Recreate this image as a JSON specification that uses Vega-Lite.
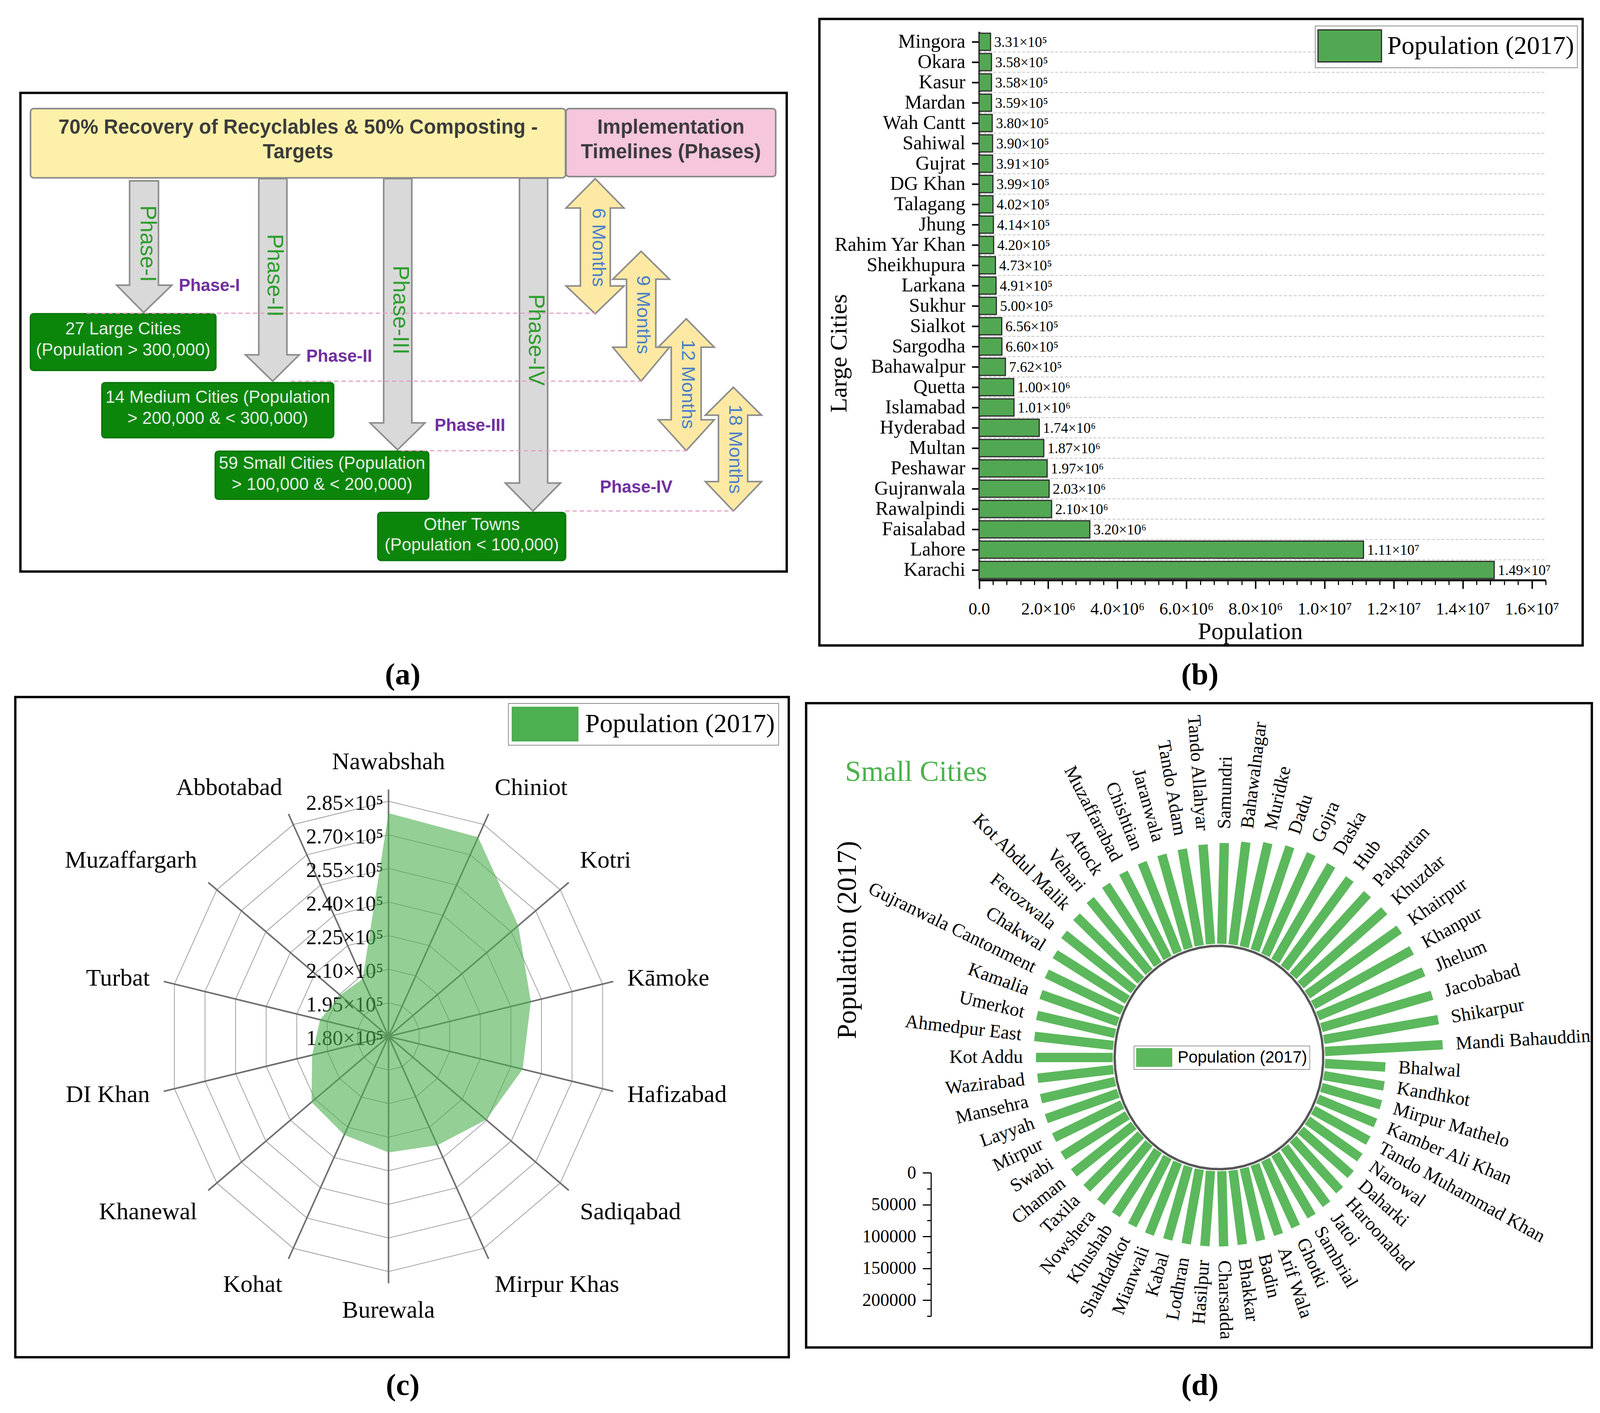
{
"$schema": "https://vega.github.io/schema/vega-lite/v6.json",
"width": 4096, "height": 3617, "padding": 0, "autosize": {"type": "none"}, "background": "white",
"config": {
  "view": {"stroke": null},
  "font": "Liberation Serif",
  "text": {"font": "Liberation Serif", "color": "black"},
  "axis": {"labelFont": "Liberation Serif", "titleFont": "Liberation Serif", "labelColor": "black", "titleColor": "black", "domainColor": "black", "tickColor": "black", "grid": false, "titleFontWeight": "normal", "labelLimit": 2000},
  "legend": {"labelColor": "black", "labelLimit": 2000}
},
"datasets": {
  "frames": [
    {"x": 20, "y": 85, "x2": 771, "y2": 523},
    {"x": 803, "y": 17.3, "x2": 1551, "y2": 590.6},
    {"x": 15, "y": 637.8, "x2": 773, "y2": 1242},
    {"x": 790, "y": 643.5, "x2": 1560, "y2": 1233}
  ],
  "captions": [
    {"t": "(a)", "x": 394.7, "y": 626.4},
    {"t": "(b)", "x": 1175.9, "y": 626.4},
    {"t": "(c)", "x": 394.7, "y": 1276.4},
    {"t": "(d)", "x": 1175.9, "y": 1276.4}
  ],
  "boxes": [
    {"kind": "target", "x": 29.9, "y": 99.4, "x2": 554.2, "y2": 162.7},
    {"kind": "timeline", "x": 554.7, "y": 99.4, "x2": 760.2, "y2": 161.6},
    {"kind": "group", "x": 29.9, "y": 287.1, "x2": 211.5, "y2": 338.9},
    {"kind": "group", "x": 99.9, "y": 350.2, "x2": 326.9, "y2": 400.5},
    {"kind": "group", "x": 211, "y": 413, "x2": 420.1, "y2": 456.8},
    {"kind": "group", "x": 370.3, "y": 469, "x2": 554.2, "y2": 512.8}
  ],
  "shapes": [
    {"s": "p1", "k": "down", "i": 0, "x": 127, "y": 165.5},
    {"s": "p1", "k": "down", "i": 1, "x": 155.3, "y": 165.5},
    {"s": "p1", "k": "down", "i": 2, "x": 155.3, "y": 261},
    {"s": "p1", "k": "down", "i": 3, "x": 168.4, "y": 261},
    {"s": "p1", "k": "down", "i": 4, "x": 140.8, "y": 286},
    {"s": "p1", "k": "down", "i": 5, "x": 114.4, "y": 261},
    {"s": "p1", "k": "down", "i": 6, "x": 127, "y": 261},
    {"s": "p2", "k": "down", "i": 0, "x": 253.6, "y": 163.5},
    {"s": "p2", "k": "down", "i": 1, "x": 281.2, "y": 163.5},
    {"s": "p2", "k": "down", "i": 2, "x": 281.2, "y": 324.7},
    {"s": "p2", "k": "down", "i": 3, "x": 293.3, "y": 324.7},
    {"s": "p2", "k": "down", "i": 4, "x": 267.2, "y": 348.8},
    {"s": "p2", "k": "down", "i": 5, "x": 240.6, "y": 324.7},
    {"s": "p2", "k": "down", "i": 6, "x": 253.6, "y": 324.7},
    {"s": "p3", "k": "down", "i": 0, "x": 376, "y": 163.5},
    {"s": "p3", "k": "down", "i": 1, "x": 403.6, "y": 163.5},
    {"s": "p3", "k": "down", "i": 2, "x": 403.6, "y": 387},
    {"s": "p3", "k": "down", "i": 3, "x": 416.5, "y": 387},
    {"s": "p3", "k": "down", "i": 4, "x": 389.6, "y": 411.6},
    {"s": "p3", "k": "down", "i": 5, "x": 362.6, "y": 387},
    {"s": "p3", "k": "down", "i": 6, "x": 376, "y": 387},
    {"s": "p4", "k": "down", "i": 0, "x": 509.1, "y": 163},
    {"s": "p4", "k": "down", "i": 1, "x": 536.7, "y": 163},
    {"s": "p4", "k": "down", "i": 2, "x": 536.7, "y": 442},
    {"s": "p4", "k": "down", "i": 3, "x": 549.3, "y": 442},
    {"s": "p4", "k": "down", "i": 4, "x": 522.3, "y": 467.6},
    {"s": "p4", "k": "down", "i": 5, "x": 495.2, "y": 442},
    {"s": "p4", "k": "down", "i": 6, "x": 509.1, "y": 442},
    {"s": "m1", "k": "double", "i": 0, "x": 583.3, "y": 163.5},
    {"s": "m1", "k": "double", "i": 1, "x": 611.5, "y": 190.4},
    {"s": "m1", "k": "double", "i": 2, "x": 598.1, "y": 190.4},
    {"s": "m1", "k": "double", "i": 3, "x": 598.1, "y": 261.7},
    {"s": "m1", "k": "double", "i": 4, "x": 611.5, "y": 261.7},
    {"s": "m1", "k": "double", "i": 5, "x": 583.3, "y": 287.1},
    {"s": "m1", "k": "double", "i": 6, "x": 554.7, "y": 261.7},
    {"s": "m1", "k": "double", "i": 7, "x": 568.8, "y": 261.7},
    {"s": "m1", "k": "double", "i": 8, "x": 568.8, "y": 190.4},
    {"s": "m1", "k": "double", "i": 9, "x": 554.7, "y": 190.4},
    {"s": "m2", "k": "double", "i": 0, "x": 628.3, "y": 230},
    {"s": "m2", "k": "double", "i": 1, "x": 656.1, "y": 255.5},
    {"s": "m2", "k": "double", "i": 2, "x": 642.7, "y": 255.5},
    {"s": "m2", "k": "double", "i": 3, "x": 642.7, "y": 317.7},
    {"s": "m2", "k": "double", "i": 4, "x": 656.1, "y": 317.7},
    {"s": "m2", "k": "double", "i": 5, "x": 628.3, "y": 348.8},
    {"s": "m2", "k": "double", "i": 6, "x": 600.5, "y": 317.7},
    {"s": "m2", "k": "double", "i": 7, "x": 614, "y": 317.7},
    {"s": "m2", "k": "double", "i": 8, "x": 614, "y": 255.5},
    {"s": "m2", "k": "double", "i": 9, "x": 600.5, "y": 255.5},
    {"s": "m3", "k": "double", "i": 0, "x": 672.5, "y": 291.7},
    {"s": "m3", "k": "double", "i": 1, "x": 700, "y": 317.7},
    {"s": "m3", "k": "double", "i": 2, "x": 687.1, "y": 317.7},
    {"s": "m3", "k": "double", "i": 3, "x": 687.1, "y": 384.1},
    {"s": "m3", "k": "double", "i": 4, "x": 700, "y": 384.1},
    {"s": "m3", "k": "double", "i": 5, "x": 672.5, "y": 412.4},
    {"s": "m3", "k": "double", "i": 6, "x": 645.1, "y": 384.1},
    {"s": "m3", "k": "double", "i": 7, "x": 657.8, "y": 384.1},
    {"s": "m3", "k": "double", "i": 8, "x": 657.8, "y": 317.7},
    {"s": "m3", "k": "double", "i": 9, "x": 645.1, "y": 317.7},
    {"s": "m4", "k": "double", "i": 0, "x": 718.7, "y": 354.4},
    {"s": "m4", "k": "double", "i": 1, "x": 746.3, "y": 379.9},
    {"s": "m4", "k": "double", "i": 2, "x": 732.7, "y": 379.9},
    {"s": "m4", "k": "double", "i": 3, "x": 732.7, "y": 440.7},
    {"s": "m4", "k": "double", "i": 4, "x": 746.3, "y": 440.7},
    {"s": "m4", "k": "double", "i": 5, "x": 718.7, "y": 467.6},
    {"s": "m4", "k": "double", "i": 6, "x": 691.2, "y": 440.7},
    {"s": "m4", "k": "double", "i": 7, "x": 704.1, "y": 440.7},
    {"s": "m4", "k": "double", "i": 8, "x": 704.1, "y": 379.9},
    {"s": "m4", "k": "double", "i": 9, "x": 691.2, "y": 379.9}
  ],
  "links": [
    {"x": 85, "x2": 583.5, "y": 286.6},
    {"x": 285, "x2": 631, "y": 348.8},
    {"x": 393, "x2": 674, "y": 412.4},
    {"x": 554, "x2": 720, "y": 467.6}
  ],
  "textA": [
    {"kind": "head", "t": "70% Recovery of Recyclables & 50% Composting -", "x": 292.1, "y": 116.9},
    {"kind": "head", "t": "Targets", "x": 292.1, "y": 139.5},
    {"kind": "head", "t": "Implementation", "x": 657.5, "y": 116.9},
    {"kind": "head", "t": "Timelines (Phases)", "x": 657.5, "y": 139.5},
    {"kind": "grp", "t": "27 Large Cities", "x": 120.7, "y": 301.3},
    {"kind": "grp", "t": "(Population > 300,000)", "x": 120.7, "y": 320.5},
    {"kind": "grp", "t": "14 Medium Cities (Population", "x": 213.4, "y": 363.8},
    {"kind": "grp", "t": "> 200,000 & < 300,000)", "x": 213.4, "y": 383.3},
    {"kind": "grp", "t": "59 Small Cities (Population", "x": 315.6, "y": 424.3},
    {"kind": "grp", "t": "> 100,000 & < 200,000)", "x": 315.6, "y": 443.5},
    {"kind": "grp", "t": "Other Towns", "x": 462.3, "y": 480.3},
    {"kind": "grp", "t": "(Population < 100,000)", "x": 462.3, "y": 499.2},
    {"kind": "phase", "t": "Phase-I", "x": 144.5, "y": 223},
    {"kind": "phase", "t": "Phase-II", "x": 268.7, "y": 252},
    {"kind": "phase", "t": "Phase-III", "x": 392, "y": 283.7},
    {"kind": "phase", "t": "Phase-IV", "x": 525, "y": 311},
    {"kind": "plabel", "t": "Phase-I", "x": 205.2, "y": 261.7},
    {"kind": "plabel", "t": "Phase-II", "x": 332.4, "y": 326.2},
    {"kind": "plabel", "t": "Phase-III", "x": 460.5, "y": 389.8},
    {"kind": "plabel", "t": "Phase-IV", "x": 623.5, "y": 446.3},
    {"kind": "month", "t": "6 Months", "x": 586.5, "y": 226.5},
    {"kind": "month", "t": "9 Months", "x": 630, "y": 288},
    {"kind": "month", "t": "12 Months", "x": 674, "y": 351.6},
    {"kind": "month", "t": "18 Months", "x": 720.5, "y": 411}
  ],
  "large": [
    {"city": "Mingora", "pop": 331091},
    {"city": "Okara", "pop": 357935},
    {"city": "Kasur", "pop": 358409},
    {"city": "Mardan", "pop": 358604},
    {"city": "Wah Cantt", "pop": 380103},
    {"city": "Sahiwal", "pop": 389605},
    {"city": "Gujrat", "pop": 390533},
    {"city": "DG Khan", "pop": 399064},
    {"city": "Talagang", "pop": 402000},
    {"city": "Jhung", "pop": 414131},
    {"city": "Rahim Yar Khan", "pop": 420419},
    {"city": "Sheikhupura", "pop": 473129},
    {"city": "Larkana", "pop": 490508},
    {"city": "Sukhur", "pop": 499900},
    {"city": "Sialkot", "pop": 655852},
    {"city": "Sargodha", "pop": 659862},
    {"city": "Bahawalpur", "pop": 762111},
    {"city": "Quetta", "pop": 1001205},
    {"city": "Islamabad", "pop": 1009832},
    {"city": "Hyderabad", "pop": 1740000},
    {"city": "Multan", "pop": 1871843},
    {"city": "Peshawar", "pop": 1970042},
    {"city": "Gujranwala", "pop": 2027001},
    {"city": "Rawalpindi", "pop": 2098231},
    {"city": "Faisalabad", "pop": 3204726},
    {"city": "Lahore", "pop": 11126285},
    {"city": "Karachi", "pop": 14910352}
  ],
  "medium": [
    {"i": 0, "city": "Nawabshah", "pop": 279688},
    {"i": 1, "city": "Chiniot", "pop": 278747},
    {"i": 2, "city": "Kotri", "pop": 259358},
    {"i": 3, "city": "Kāmoke", "pop": 249767},
    {"i": 4, "city": "Hafizabad", "pop": 245784},
    {"i": 5, "city": "Sadiqabad", "pop": 239677},
    {"i": 6, "city": "Mirpur Khas", "pop": 233916},
    {"i": 7, "city": "Burewala", "pop": 231797},
    {"i": 8, "city": "Kohat", "pop": 228779},
    {"i": 9, "city": "Khanewal", "pop": 227059},
    {"i": 10, "city": "DI Khan", "pop": 217457},
    {"i": 11, "city": "Turbat", "pop": 213557},
    {"i": 12, "city": "Muzaffargarh", "pop": 209604},
    {"i": 13, "city": "Abbotabad", "pop": 208491}
  ],
  "ticksC": [
    {"tick": 180000, "k": [0,1,2,3,4,5,6,7,8,9,10,11,12,13,14]},
    {"tick": 195000, "k": [0,1,2,3,4,5,6,7,8,9,10,11,12,13,14]},
    {"tick": 210000, "k": [0,1,2,3,4,5,6,7,8,9,10,11,12,13,14]},
    {"tick": 225000, "k": [0,1,2,3,4,5,6,7,8,9,10,11,12,13,14]},
    {"tick": 240000, "k": [0,1,2,3,4,5,6,7,8,9,10,11,12,13,14]},
    {"tick": 255000, "k": [0,1,2,3,4,5,6,7,8,9,10,11,12,13,14]},
    {"tick": 270000, "k": [0,1,2,3,4,5,6,7,8,9,10,11,12,13,14]},
    {"tick": 285000, "k": [0,1,2,3,4,5,6,7,8,9,10,11,12,13,14]}
  ],
  "small": [
    {"rank": 1, "city": "Bhalwal", "pop": 101400},
    {"rank": 2, "city": "Kandhkot", "pop": 102400},
    {"rank": 3, "city": "Mirpur Mathelo", "pop": 103600},
    {"rank": 4, "city": "Kamber Ali Khan", "pop": 103900},
    {"rank": 5, "city": "Tando Muhammad Khan", "pop": 104300},
    {"rank": 6, "city": "Narowal", "pop": 105700},
    {"rank": 7, "city": "Daharki", "pop": 109100},
    {"rank": 8, "city": "Haroonabad", "pop": 112200},
    {"rank": 9, "city": "Jatoi", "pop": 114200},
    {"rank": 10, "city": "Sambrial", "pop": 115100},
    {"rank": 11, "city": "Ghotki", "pop": 116500},
    {"rank": 12, "city": "Arif Wala", "pop": 116800},
    {"rank": 13, "city": "Badin", "pop": 117000},
    {"rank": 14, "city": "Bhakkar", "pop": 117400},
    {"rank": 15, "city": "Charsadda", "pop": 117900},
    {"rank": 16, "city": "Hasilpur", "pop": 118300},
    {"rank": 17, "city": "Lodhran", "pop": 118800},
    {"rank": 18, "city": "Kabal", "pop": 119700},
    {"rank": 19, "city": "Mianwali", "pop": 122300},
    {"rank": 20, "city": "Shahdadkot", "pop": 122500},
    {"rank": 21, "city": "Khushab", "pop": 122800},
    {"rank": 22, "city": "Nowshera", "pop": 123200},
    {"rank": 23, "city": "Taxila", "pop": 124000},
    {"rank": 24, "city": "Chaman", "pop": 125200},
    {"rank": 25, "city": "Swabi", "pop": 125500},
    {"rank": 26, "city": "Mirpur", "pop": 125800},
    {"rank": 27, "city": "Layyah", "pop": 127100},
    {"rank": 28, "city": "Mansehra", "pop": 127400},
    {"rank": 29, "city": "Wazirabad", "pop": 127800},
    {"rank": 30, "city": "Kot Addu", "pop": 129000},
    {"rank": 31, "city": "Ahmedpur East", "pop": 133000},
    {"rank": 32, "city": "Umerkot", "pop": 134200},
    {"rank": 33, "city": "Kamalia", "pop": 136500},
    {"rank": 34, "city": "Gujranwala Cantonment", "pop": 139200},
    {"rank": 35, "city": "Chakwal", "pop": 141000},
    {"rank": 36, "city": "Ferozwala", "pop": 145600},
    {"rank": 37, "city": "Kot Abdul Malik", "pop": 147300},
    {"rank": 38, "city": "Vehari", "pop": 149900},
    {"rank": 39, "city": "Attock", "pop": 151700},
    {"rank": 40, "city": "Muzaffarabad", "pop": 152900},
    {"rank": 41, "city": "Chishtian", "pop": 153300},
    {"rank": 42, "city": "Jaranwala", "pop": 153600},
    {"rank": 43, "city": "Tando Adam", "pop": 154000},
    {"rank": 44, "city": "Tando Allahyar", "pop": 156500},
    {"rank": 45, "city": "Samundri", "pop": 158100},
    {"rank": 46, "city": "Bahawalnagar", "pop": 162200},
    {"rank": 47, "city": "Muridke", "pop": 167800},
    {"rank": 48, "city": "Dadu", "pop": 173000},
    {"rank": 49, "city": "Gojra", "pop": 176400},
    {"rank": 50, "city": "Daska", "pop": 177100},
    {"rank": 51, "city": "Hub", "pop": 177500},
    {"rank": 52, "city": "Pakpattan", "pop": 179200},
    {"rank": 53, "city": "Khuzdar", "pop": 182300},
    {"rank": 54, "city": "Khairpur", "pop": 185000},
    {"rank": 55, "city": "Khanpur", "pop": 186400},
    {"rank": 56, "city": "Jhelum", "pop": 190600},
    {"rank": 57, "city": "Jacobabad", "pop": 192500},
    {"rank": 58, "city": "Shikarpur", "pop": 194600},
    {"rank": 59, "city": "Mandi Bahauddin", "pop": 197800}
  ]
},
"layer": [
  {
    "encoding": {
      "x": {"field": "x", "type": "quantitative", "scale": {"domain": [0, 1568], "range": [0, 4096], "nice": false, "zero": false}, "axis": null},
      "y": {"field": "y", "type": "quantitative", "scale": {"domain": [0, 1293], "range": [0, 3617], "nice": false, "zero": false}, "axis": null}
    },
    "layer": [
      {"data": {"name": "boxes"}, "mark": {"type": "rect", "cornerRadius": 8, "strokeWidth": 4},
       "encoding": {"x2": {"field": "x2"}, "y2": {"field": "y2"},
         "fill": {"field": "kind", "type": "nominal", "scale": {"domain": ["target", "timeline", "group"], "range": ["#fdf1a9", "#f5c6dc", "#0b860b"]}, "legend": null},
         "stroke": {"field": "kind", "type": "nominal", "scale": {"domain": ["target", "timeline", "group"], "range": ["#8a8a8a", "#8a8a8a", "#0a760a"]}, "legend": null}}},
      {"data": {"name": "shapes"}, "transform": [{"filter": "datum.k == 'down'"}],
       "mark": {"type": "line", "filled": true, "interpolate": "linear-closed", "fill": "#d9d9d9", "stroke": "#8c8c8c", "strokeWidth": 4},
       "encoding": {"detail": {"field": "s", "type": "nominal"}, "order": {"field": "i", "type": "quantitative"}}},
      {"data": {"name": "shapes"}, "transform": [{"filter": "datum.k == 'double'"}],
       "mark": {"type": "line", "filled": true, "interpolate": "linear-closed", "fill": "#fde9a3", "stroke": "#8c8c8c", "strokeWidth": 4},
       "encoding": {"detail": {"field": "s", "type": "nominal"}, "order": {"field": "i", "type": "quantitative"}}},
      {"data": {"name": "links"}, "mark": {"type": "rule", "stroke": "#e3a1c4", "strokeWidth": 3, "strokeDash": [11, 7.5]},
       "encoding": {"x2": {"field": "x2"}}},
      {"data": {"name": "textA"}, "transform": [{"filter": "datum.kind == 'head'"}],
       "mark": {"type": "text", "font": "Liberation Sans", "fontWeight": "bold", "fontSize": 51, "color": "#3c3c3c", "align": "center", "baseline": "middle"},
       "encoding": {"text": {"field": "t"}}},
      {"data": {"name": "textA"}, "transform": [{"filter": "datum.kind == 'grp'"}],
       "mark": {"type": "text", "font": "Liberation Sans", "fontSize": 44, "color": "#e6f0e6", "align": "center", "baseline": "middle"},
       "encoding": {"text": {"field": "t"}}},
      {"data": {"name": "textA"}, "transform": [{"filter": "datum.kind == 'phase'"}],
       "mark": {"type": "text", "font": "Liberation Sans", "fontSize": 57, "color": "#2e9e2e", "align": "center", "baseline": "middle", "angle": 90},
       "encoding": {"text": {"field": "t"}}},
      {"data": {"name": "textA"}, "transform": [{"filter": "datum.kind == 'plabel'"}],
       "mark": {"type": "text", "font": "Liberation Sans", "fontWeight": "bold", "fontSize": 44, "color": "#7030a0", "align": "center", "baseline": "middle"},
       "encoding": {"text": {"field": "t"}}},
      {"data": {"name": "textA"}, "transform": [{"filter": "datum.kind == 'month'"}],
       "mark": {"type": "text", "font": "Liberation Sans", "fontSize": 49, "color": "#4a7ec8", "align": "center", "baseline": "middle", "angle": 90},
       "encoding": {"text": {"field": "t"}}},
      {"data": {"name": "frames"}, "mark": {"type": "rect", "fill": "white", "fillOpacity": 0, "stroke": "black", "strokeWidth": 6},
       "encoding": {"x2": {"field": "x2"}, "y2": {"field": "y2"}}},
      {"data": {"name": "captions"}, "mark": {"type": "text", "fontSize": 78, "fontWeight": "bold", "align": "center", "baseline": "alphabetic"},
       "encoding": {"text": {"field": "t"}}},
      {"data": {"values": [{"t": "Small Cities", "x": 897.8, "y": 714.7}]},
       "mark": {"type": "text", "fontSize": 74, "color": "#4cb24c", "align": "center", "baseline": "alphabetic"},
       "encoding": {"text": {"field": "t"}}},
      {"data": {"values": [{"t": "Population (2017)", "x": 830.7, "y": 860.2}]},
       "mark": {"type": "text", "fontSize": 70, "align": "center", "baseline": "middle", "angle": -90},
       "encoding": {"text": {"field": "t"}}}
    ]
  },
  {
    "data": {"name": "large"},
    "transform": [{"filter": "datum.city != 'Mingora'"}],
    "mark": {"type": "rule", "stroke": "#c4c4c4", "strokeWidth": 2, "strokeDash": [7.5, 4.7], "yOffset": -4},
    "encoding": {
      "y": {"field": "city", "type": "nominal", "sort": null, "bandPosition": 0, "axis": null,
            "scale": {"domain": ["Mingora","Okara","Kasur","Mardan","Wah Cantt","Sahiwal","Gujrat","DG Khan","Talagang","Jhung","Rahim Yar Khan","Sheikhupura","Larkana","Sukhur","Sialkot","Sargodha","Bahawalpur","Quetta","Islamabad","Hyderabad","Multan","Peshawar","Gujranwala","Rawalpindi","Faisalabad","Lahore","Karachi"], "range": [81, 1485], "paddingInner": 0.154, "paddingOuter": 0.077}},
      "x": {"datum": 0, "type": "quantitative", "axis": null, "scale": {"domain": [0, 16400000], "range": [2506.5, 3956.9], "nice": false, "zero": false}},
      "x2": {"datum": 16400000}
    }
  },
  {
    "data": {"name": "large"},
    "transform": [{"calculate": "datum.pop < 1e6 ? format(datum.pop/1e5,'.2f') + '×10⁵' : (datum.pop < 1e7 ? format(datum.pop/1e6,'.2f') + '×10⁶' : format(datum.pop/1e7,'.2f') + '×10⁷')", "as": "lbl"}],
    "encoding": {
      "y": {"field": "city", "type": "nominal", "sort": null,
            "scale": {"domain": ["Mingora","Okara","Kasur","Mardan","Wah Cantt","Sahiwal","Gujrat","DG Khan","Talagang","Jhung","Rahim Yar Khan","Sheikhupura","Larkana","Sukhur","Sialkot","Sargodha","Bahawalpur","Quetta","Islamabad","Hyderabad","Multan","Peshawar","Gujranwala","Rawalpindi","Faisalabad","Lahore","Karachi"], "range": [81, 1485], "paddingInner": 0.154, "paddingOuter": 0.077},
            "axis": {"orient": "left", "offset": -2506.5, "tickSize": 18.7, "tickWidth": 4, "domainWidth": 4.7, "labelFontSize": 50, "labelPadding": 16.8,
                     "title": "Large Cities", "titleFontSize": 62, "titleX": -359.5, "titleY": 904, "titleAngle": -90, "titleBaseline": "middle", "titleAlign": "center"}},
      "x": {"field": "pop", "type": "quantitative",
            "scale": {"domain": [0, 16400000], "range": [2506.5, 3956.9], "nice": false, "zero": false},
            "axis": {"orient": "bottom", "offset": -2132, "values": [0, 2000000, 4000000, 6000000, 8000000, 10000000, 12000000, 14000000, 16000000],
                     "labelExpr": "datum.value == 0 ? '0.0' : (datum.value < 1e7 ? format(datum.value/1e6,'.1f') + '×10⁶' : format(datum.value/1e7,'.1f') + '×10⁷')",
                     "tickSize": 22, "tickWidth": 3.7, "domainWidth": 5, "labelFontSize": 44, "labelPadding": 30, "labelFlush": false, "labelOverlap": false,
                     "title": "Population", "titleFontSize": 62, "titleX": 3200.4, "titleY": 131, "titleBaseline": "middle", "titleAlign": "center"}}
    },
    "layer": [
      {"mark": {"type": "bar", "stroke": "#2b2b2b", "strokeWidth": 3},
       "encoding": {"color": {"datum": "Population (2017)", "type": "nominal", "scale": {"range": ["#52a852"]},
         "legend": {"title": null, "orient": "none", "legendX": 3366.6, "legendY": 66, "padding": 7.5, "strokeColor": "#222222", "fillColor": "white",
                    "symbolType": "M-1.912,-0.965H1.912V0.965H-1.912Z", "symbolSize": 7225, "symbolOffset": 37.25, "symbolStrokeWidth": 3, "labelOffset": 52,
                    "labelFont": "Liberation Serif", "labelFontSize": 66,
                    "encode": {"symbols": {"update": {"fill": {"value": "#52a852"}, "stroke": {"value": "#333333"}, "strokeWidth": {"value": 3}, "opacity": {"value": 1}}}}}}}},
      {"mark": {"type": "text", "align": "left", "baseline": "middle", "dx": 9.3, "dy": 2, "fontSize": 37},
       "encoding": {"text": {"field": "lbl"}}}
    ]
  },
  {
    "data": {"name": "large"},
    "mark": {"type": "point", "opacity": 0},
    "encoding": {
      "x": {"field": "pop", "type": "quantitative", "scale": {"domain": [0, 16400000], "range": [2506.5, 3956.9], "nice": false, "zero": false},
            "axis": {"orient": "bottom", "offset": -2132, "labels": false, "domain": false, "tickSize": 12, "tickWidth": 2.8, "title": null,
                     "values": [400000, 800000, 1200000, 1600000, 2400000, 2800000, 3200000, 3600000, 4400000, 4800000, 5200000, 5600000, 6400000, 6800000, 7200000, 7600000, 8400000, 8800000, 9200000, 9600000, 10400000, 10800000, 11200000, 11600000, 12400000, 12800000, 13200000, 13600000, 14400000, 14800000, 15200000, 15600000, 16400000]}}
    }
  },
  {
    "encoding": {
      "x": {"field": "px", "type": "quantitative", "scale": {"domain": [-1, 1], "range": [432.4, 1556.8], "nice": false, "zero": false}, "axis": null},
      "y": {"field": "py", "type": "quantitative", "scale": {"domain": [-1, 1], "range": [3255, 2051], "nice": false, "zero": false}, "axis": null}
    },
    "layer": [
      {"data": {"name": "ticksC"},
       "transform": [{"filter": "datum.tick > 180000"}, {"flatten": ["k"]},
                     {"calculate": "datum.k * 2 * PI / 14", "as": "a"},
                     {"calculate": "(datum.tick - 180000) / 105000", "as": "u"},
                     {"calculate": "datum.u * sin(datum.a)", "as": "px"},
                     {"calculate": "datum.u * cos(datum.a)", "as": "py"}],
       "mark": {"type": "line", "stroke": "#a0a0a0", "strokeWidth": 2},
       "encoding": {"detail": {"field": "tick", "type": "nominal"}, "order": {"field": "k", "type": "quantitative"}}},
      {"data": {"name": "medium"},
       "transform": [{"calculate": "datum.i * 2 * PI / 14", "as": "a"},
                     {"calculate": "0", "as": "px"}, {"calculate": "0", "as": "py"},
                     {"calculate": "1.05 * sin(datum.a)", "as": "px2"},
                     {"calculate": "1.05 * cos(datum.a)", "as": "py2"}],
       "mark": {"type": "rule", "stroke": "#6f6f6f", "strokeWidth": 4},
       "encoding": {"x2": {"field": "px2"}, "y2": {"field": "py2"}}},
      {"data": {"name": "ticksC"},
       "transform": [{"calculate": "(datum.tick - 180000) / 105000", "as": "py"},
                     {"calculate": "0", "as": "px"},
                     {"calculate": "format(datum.tick / 1e5, '.2f') + '×10⁵'", "as": "lbl"}],
       "mark": {"type": "text", "align": "right", "baseline": "middle", "dx": -13, "dy": 6, "fontSize": 54},
       "encoding": {"text": {"field": "lbl"}}},
      {"data": {"name": "medium"},
       "transform": [{"calculate": "datum.i * 2 * PI / 14", "as": "a"},
                     {"calculate": "(datum.pop - 180000) / 105000", "as": "u"},
                     {"calculate": "datum.u * sin(datum.a)", "as": "px"},
                     {"calculate": "datum.u * cos(datum.a)", "as": "py"}],
       "mark": {"type": "line", "filled": true, "interpolate": "linear-closed", "fillOpacity": 0.6, "strokeOpacity": 0},
       "encoding": {"order": {"field": "i", "type": "quantitative"},
         "color": {"datum": "Population (2017)", "type": "nominal", "scale": {"range": ["#4caf50"]},
           "legend": {"title": null, "orient": "none", "legendX": 1300.9, "legendY": 1800, "padding": 9, "strokeColor": "#222222", "fillColor": "white",
                      "symbolType": "M-1.921,-1H1.921V1H-1.921Z", "symbolSize": 7921, "symbolOffset": 41, "symbolStrokeWidth": 0, "labelOffset": 58,
                      "labelFont": "Liberation Serif", "labelFontSize": 67,
                      "encode": {"symbols": {"update": {"fill": {"value": "#99cc99"}, "stroke": {"value": "transparent"}, "strokeWidth": {"value": 0}, "opacity": {"value": 1}, "fillOpacity": {"value": 1}}}}}}}},
      {"data": {"name": "medium"},
       "transform": [{"calculate": "datum.i * 2 * PI / 14", "as": "a"},
                     {"calculate": "sin(datum.a)", "as": "sx"},
                     {"calculate": "cos(datum.a)", "as": "cy"},
                     {"calculate": "1.115 * datum.sx", "as": "px"},
                     {"calculate": "1.115 * datum.cy", "as": "py"}],
       "mark": {"type": "text", "fontSize": 62,
                "align": {"expr": "datum.sx > 0.1 ? 'left' : (datum.sx < -0.1 ? 'right' : 'center')"},
                "baseline": {"expr": "datum.cy > 0.3 ? 'bottom' : (datum.cy < -0.3 ? 'top' : 'middle')"}},
       "encoding": {"text": {"field": "city"}}}
    ]
  },
  {
    "data": {"name": "small"},
    "transform": [
      {"calculate": "PI / 2 + (datum.rank - 0.5) * 2 * PI / 59", "as": "a"},
      {"calculate": "178200 * sin(datum.a)", "as": "x0"},
      {"calculate": "178200 * cos(datum.a)", "as": "y0"},
      {"calculate": "(178200 + datum.pop) * sin(datum.a)", "as": "x1"},
      {"calculate": "(178200 + datum.pop) * cos(datum.a)", "as": "y1"},
      {"calculate": "(200200 + datum.pop) * sin(datum.a)", "as": "xl"},
      {"calculate": "(200200 + datum.pop) * cos(datum.a)", "as": "yl"},
      {"calculate": "175100 * sin(datum.a)", "as": "xr"},
      {"calculate": "175100 * cos(datum.a)", "as": "yr"},
      {"calculate": "(datum.a * 180 / PI) % 360", "as": "am"},
      {"calculate": "datum.am < 180 ? atan2(-cos(datum.a), 0.9339 * sin(datum.a)) * 180 / PI : atan2(cos(datum.a), -0.9339 * sin(datum.a)) * 180 / PI", "as": "rot"}
    ],
    "encoding": {
      "x": {"field": "x0", "type": "quantitative", "scale": {"domain": [-400000, 400000], "range": [2510.5, 3730.5], "nice": false, "zero": false}, "axis": null},
      "y": {"field": "y0", "type": "quantitative", "scale": {"domain": [-400000, 400000], "range": [3360.2, 2053.8], "nice": false, "zero": false}, "axis": null}
    },
    "layer": [
      {"mark": {"type": "line", "interpolate": "linear-closed", "stroke": "#555555", "strokeWidth": 6},
       "encoding": {"x": {"field": "xr", "type": "quantitative", "axis": null}, "y": {"field": "yr", "type": "quantitative", "axis": null},
                    "order": {"field": "rank", "type": "quantitative"}}},
      {"mark": {"type": "rule", "strokeWidth": 24, "strokeCap": "butt"},
       "encoding": {"x2": {"field": "x1"}, "y2": {"field": "y1"},
         "color": {"datum": "Population (2017)", "type": "nominal", "scale": {"range": ["#5cb85c"]},
           "legend": {"title": null, "orient": "none", "legendX": 2902.5, "legendY": 2677, "padding": 6, "strokeColor": "#333333", "fillColor": "white",
                      "symbolType": "M-1.927,-1H1.927V1H-1.927Z", "symbolSize": 2304, "symbolOffset": 22.25, "symbolStrokeWidth": 0, "labelOffset": 36,
                      "labelFont": "Liberation Sans", "labelFontSize": 42,
                      "encode": {"symbols": {"update": {"fill": {"value": "#5cb85c"}, "stroke": {"value": "transparent"}, "strokeWidth": {"value": 0}, "opacity": {"value": 1}, "fillOpacity": {"value": 1}}}}}}}},
      {"transform": [{"filter": "datum.am < 180"}],
       "mark": {"type": "text", "align": "left", "baseline": "middle", "fontSize": 48},
       "encoding": {"x": {"field": "xl", "type": "quantitative", "axis": null}, "y": {"field": "yl", "type": "quantitative", "axis": null},
                    "text": {"field": "city"}, "angle": {"field": "rot", "type": "quantitative", "scale": null}}},
      {"transform": [{"filter": "datum.am >= 180"}],
       "mark": {"type": "text", "align": "right", "baseline": "middle", "fontSize": 48},
       "encoding": {"x": {"field": "xl", "type": "quantitative", "axis": null}, "y": {"field": "yl", "type": "quantitative", "axis": null},
                    "text": {"field": "city"}, "angle": {"field": "rot", "type": "quantitative", "scale": null}}}
    ]
  },
  {
    "data": {"name": "small"},
    "mark": {"type": "point", "opacity": 0},
    "encoding": {
      "y": {"field": "pop", "type": "quantitative", "scale": {"domain": [0, 225000], "range": [3002, 3369], "nice": false, "zero": false},
            "axis": {"orient": "left", "offset": -2383.3, "values": [0, 50000, 100000, 150000, 200000], "format": "d", "tickSize": 21.5, "tickWidth": 3, "domainWidth": 2.8,
                     "labelFontSize": 46, "labelPadding": 16.8, "title": null, "labelFlush": false, "labelOverlap": false, "labelBaseline": "middle"}}
    }
  },
  {
    "data": {"name": "small"},
    "mark": {"type": "point", "opacity": 0},
    "encoding": {
      "y": {"field": "pop", "type": "quantitative", "scale": {"domain": [0, 225000], "range": [3002, 3369], "nice": false, "zero": false},
            "axis": {"orient": "left", "offset": -2383.3, "values": [25000, 75000, 125000, 175000, 225000], "labels": false, "domain": false, "tickSize": 10.3, "tickWidth": 3, "title": null}}
    }
  }
],
"resolve": {
  "scale": {"x": "independent", "y": "independent", "color": "independent", "fill": "independent", "stroke": "independent"},
  "axis": {"x": "independent", "y": "independent"},
  "legend": {"color": "independent"}
}
}
